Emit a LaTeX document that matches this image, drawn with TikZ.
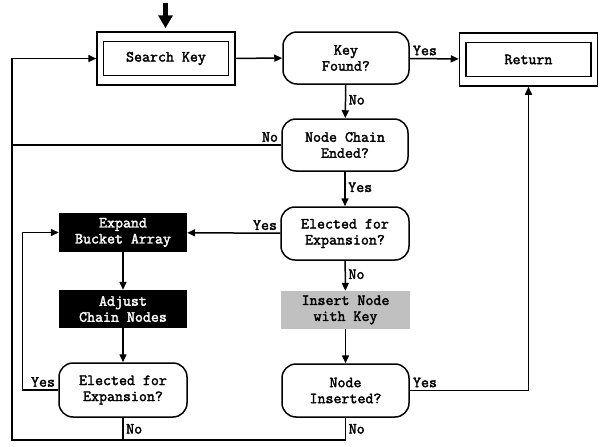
\documentclass[tikz,border=0pt]{standalone}
\usepackage{fontspec}
\setmonofont{Latin Modern Mono}[AutoFakeBold=2.2]
\usetikzlibrary{arrows.meta}
\definecolor{insertgrey}{HTML}{C0C0C0}

\begin{document}
\begin{tikzpicture}[x=1pt, y=-1pt,
        txt/.style={font=\ttfamily\bfseries\fontsize{15.5}{16}\selectfont, align=center, inner sep=0pt},
        lbl/.style={font=\ttfamily\bfseries\fontsize{15.5}{16}\selectfont, inner sep=2.5pt},
        decision/.style={txt, draw, line width=1.5pt, rounded corners=14pt, minimum width=126pt, minimum height=52pt},
        outerbox/.style={draw, line width=1.5pt, minimum width=138pt, minimum height=53pt},
        innerbox/.style={txt, draw, line width=1.6pt, minimum width=125pt, minimum height=34pt},
        blackbox/.style={txt, fill=black, text=white, minimum width=128pt, minimum height=39pt},
        greybox/.style={txt, fill=insertgrey, minimum width=129pt, minimum height=38pt},
        flow/.style={line width=1.5pt, -{Triangle[length=8pt,width=7pt]}},
        wire/.style={line width=1.5pt}]
    \useasboundingbox (0,0) rectangle (606,447);

    \node[outerbox] (search) at (166, 58.5) {};
    \node[innerbox] (searchin) at (search) {Search Key};
    \node[decision] (found) at (346, 58) {Key\\Found?};
    \node[outerbox] (return) at (528.5, 59.5) {};
    \node[innerbox] (returnin) at (return) {Return};
    \node[decision] (chain) at (345, 145) {Node Chain\\Ended?};
    \node[decision, minimum width=128pt, minimum height=53pt] (elect) at (345, 233.5) {Elected for\\Expansion?};
    \node[blackbox] (expand) at (123, 232.5) {Expand\\Bucket Array};
    \node[blackbox, minimum height=38pt] (adjust) at (123, 309) {Adjust\\Chain Nodes};
    \node[greybox] (insert) at (345.5, 310) {Insert Node\\with Key};
    \node[decision, minimum width=128pt, minimum height=54pt] (elect2) at (123, 390) {Elected for\\Expansion?};
    \node[decision, minimum width=127pt, minimum height=53pt] (inserted) at (345.5, 390.5) {Node\\Inserted?};

    \coordinate (start) at (165.5, 3);
    \coordinate (loop) at (12, 440);

    % entry
    \draw[line width=5pt, -{Triangle[length=13pt,width=14pt]}, shorten >=3pt] (start) -- (search.north -| start);

    % main path
    \draw[flow] (search) -- (found);
    \draw[flow] (found) -- node[lbl, pos=0, above right] {Yes} (return);
    \draw[flow] (found) -- node[lbl, pos=0.45, right] {No} (chain);
    \draw[flow] (chain) -- node[lbl, pos=0.45, right] {Yes} (elect);
    \draw[flow] (elect) -- node[lbl, pos=0, above left] {Yes} (expand);
    \draw[flow] (elect) -- node[lbl, pos=0.45, right] {No} (insert);
    \draw[flow] (expand) -- (adjust);
    \draw[flow] (adjust) -- (elect2);
    \draw[flow] (insert) -- (inserted);
    \draw[flow] (elect2.west) -- node[lbl, pos=0, above left] {Yes} ++(-36,0) |- (expand.west);
    \draw[flow] (inserted.east) -- node[lbl, pos=0, above right] {Yes} (inserted.east -| return.south) -- (return.south);

    % back to search
    \draw[flow] (inserted.south) -- node[lbl, pos=0.5, right] {No} (inserted.south |- loop) -- (loop) |- (search.west);
    \draw[wire] (elect2.south) -- node[lbl, pos=0.5, right] {No} (elect2.south |- loop);
    \draw[wire] (chain.west) -- node[lbl, pos=0, above left] {No} (chain.west -| loop);
\end{tikzpicture}
\end{document}
